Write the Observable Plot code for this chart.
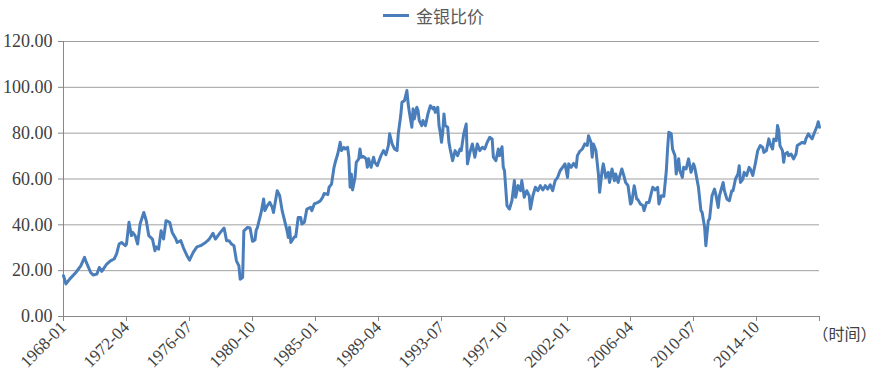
<!DOCTYPE html>
<html>
<head>
<meta charset="utf-8">
<script src="https://cdn.jsdelivr.net/npm/d3@7"></script>
<script src="https://cdn.jsdelivr.net/npm/@observablehq/plot@0.6"></script>
<style>
  html, body { margin: 0; padding: 0; background: #fff; }
  #wrap { width: 877px; position: relative; }
  #legend { height: 30px; display: flex; align-items: center; justify-content: flex-start; padding-left: 383px; box-sizing: border-box;
            font-family: "Noto Sans CJK SC", sans-serif; font-size: 17px; color: #595959; }
  #legend .sw { width: 26px; height: 3px; background: #4A7EBB; margin-right: 7px; }
  #chart svg, #chart svg g, #chart svg text { font-family: "Liberation Serif", "DejaVu Serif", "Times New Roman", serif !important; }
  #chart svg g.cjk, #chart svg g.cjk text { font-family: "Noto Sans CJK SC", sans-serif !important; }
</style>
</head>
<body>
<div id="wrap">
  <div id="legend"><span class="sw"></span><span>金银比价</span></div>
  <div id="chart"></div>
</div>
<script>
const seriesName = "金银比价";
const axisTitle = "（时间）";
const tickLabels = ["1968-01","1972-04","1976-07","1980-10","1985-01","1989-04","1993-07","1997-10","2002-01","2006-04","2010-07","2014-10"];
const axisEnd = "2019-01";
const yTicks = [0, 20, 40, 60, 80, 100, 120];

const dates = ["1968-01","1968-03","1968-06","1968-11","1969-03","1969-06","1969-07","1969-11","1970-01","1970-04","1970-06","1970-08","1970-12",
"1971-03","1971-06","1971-08","1971-10","1971-12","1972-03","1972-04","1972-06","1972-08","1972-09","1972-11","1973-01","1973-03","1973-06","1973-08","1973-10",
"1974-01","1974-03","1974-04","1974-06","1974-08","1974-10","1974-12","1975-03","1975-05","1975-08","1975-09","1975-12","1976-02","1976-05","1976-07","1976-10",
"1977-01","1977-04","1977-08","1977-11","1978-02","1978-04","1978-08","1978-11","1979-01","1979-03","1979-05","1979-07","1979-09","1979-11","1979-12",
"1980-02","1980-03","1980-06","1980-08","1980-10","1980-12","1981-01","1981-02","1981-05","1981-07","1981-08","1981-10","1981-12","1982-02","1982-03","1982-06",
"1982-08","1982-10","1982-11","1983-02","1983-03","1983-04","1983-05","1983-08","1983-09","1983-11","1984-01","1984-02","1984-04","1984-06","1984-09","1984-10",
"1984-12","1985-03","1985-05","1985-07","1985-08","1985-11","1985-12","1986-02","1986-04","1986-05","1986-07","1986-09","1986-10","1986-12","1987-01","1987-03",
"1987-04","1987-05","1987-06","1987-07","1987-09","1987-10","1987-12","1988-01","1988-02","1988-04","1988-06","1988-07","1988-08","1988-10","1988-12","1989-01",
"1989-03","1989-04","1989-06","1989-08","1989-10","1989-12","1990-01","1990-03","1990-05","1990-07","1990-08","1990-10","1990-11","1991-01","1991-03","1991-04",
"1991-05","1991-07","1991-08","1991-09","1991-11","1991-12","1992-01","1992-03","1992-04","1992-06","1992-08","1992-10","1992-12","1993-01","1993-02","1993-04",
"1993-05","1993-06","1993-07","1993-08","1993-09","1993-10","1993-12","1994-01","1994-02","1994-04","1994-06","1994-08","1994-10","1994-11","1995-01","1995-03",
"1995-04","1995-06","1995-08","1995-10","1995-12","1996-02","1996-04","1996-06","1996-08","1996-10","1996-12","1997-01","1997-03","1997-05","1997-06","1997-08",
"1997-09","1997-10","1997-12","1998-02","1998-04","1998-06","1998-07","1998-09","1998-11","1998-12","1999-02","1999-04","1999-06","1999-07","1999-09","1999-11",
"2000-01","2000-03","2000-05","2000-07","2000-09","2000-11","2001-01","2001-03","2001-05","2001-07","2001-09","2001-11","2002-01","2002-02","2002-04","2002-06",
"2002-08","2002-09","2002-11","2003-01","2003-03","2003-05","2003-06","2003-08","2003-09","2003-10","2003-12","2004-02","2004-03","2004-05","2004-06","2004-08",
"2004-10","2004-11","2005-01","2005-03","2005-04","2005-06","2005-07","2005-09","2005-11","2005-12","2006-02","2006-04","2006-05","2006-07","2006-09","2006-10",
"2006-12","2007-02","2007-03","2007-05","2007-07","2007-08","2007-10","2007-12","2008-02","2008-03","2008-05","2008-07","2008-09","2008-10","2008-11","2009-01",
"2009-02","2009-04","2009-05","2009-07","2009-08","2009-10","2009-11","2010-01","2010-03","2010-05","2010-07","2010-08","2010-10","2010-11","2011-01","2011-02",
"2011-04","2011-05","2011-07","2011-08","2011-10","2011-12","2012-01","2012-03","2012-04","2012-07","2012-08","2012-10","2012-12","2013-02","2013-03","2013-05",
"2013-07","2013-08","2013-09","2013-11","2013-12","2014-02","2014-04","2014-05","2014-07","2014-09","2014-11","2015-01","2015-03","2015-04","2015-06","2015-08",
"2015-09","2015-11","2015-12","2016-02","2016-03","2016-04","2016-05","2016-07","2016-08","2016-09","2016-11","2016-12","2017-02","2017-04","2017-06","2017-07",
"2017-09","2017-11","2018-01","2018-02","2018-04","2018-06","2018-07","2018-09","2018-11","2018-12","2019-01"];

const ratios = [17.8,14.2,16.3,19.2,22.1,25.8,24.3,19.2,18.1,18.5,21.4,19.7,22.9,
24.3,25.1,27.3,31.6,32.3,30.9,31.6,41.1,35.3,36.7,35.3,31.6,40.4,45.4,41.8,35.3,
33.8,28.7,30.4,29.4,37.4,33.8,41.8,41.1,36.7,33.8,32.3,33.1,30.1,26.5,24.6,28.0,
30.4,30.9,32.3,33.8,36.3,33.8,36.7,38.6,33.1,33.1,31.6,30.9,24.3,22.1,16.3,
17.0,37.4,38.9,38.6,32.8,33.4,37.7,38.9,45.4,51.3,46.2,48.4,49.8,47.6,45.4,54.9,
52.7,46.2,44.0,37.4,34.5,38.9,32.3,34.8,34.8,43.2,43.2,40.4,41.1,46.9,47.6,46.2,
49.1,49.8,50.5,52.3,53.7,53.2,56.4,57.8,65.1,67.3,70.9,76.0,72.4,73.8,73.1,73.8,
69.5,56.4,62.2,55.2,60.7,67.3,68.8,73.1,69.5,69.8,68.8,65.1,68.8,65.1,69.5,67.3,
65.8,67.3,70.2,72.4,70.6,74.6,79.7,75.3,73.1,72.4,79.7,87.7,93.5,94.2,98.6,92.8,
89.1,82.6,90.6,86.2,91.3,89.9,85.5,83.3,85.5,83.3,88.4,92.0,90.6,91.3,89.1,91.3,
83.3,80.4,76.0,80.4,88.4,83.3,82.6,76.0,73.1,68.0,72.4,70.2,73.1,72.4,79.7,84.0,
66.6,71.6,75.3,69.5,75.3,72.4,73.8,73.1,76.0,78.2,77.5,69.5,68.0,73.1,70.2,74.1,
65.1,63.6,48.4,46.9,50.5,59.3,52.0,57.1,54.9,59.3,52.0,54.9,52.7,46.9,52.7,56.4,
54.9,57.1,55.2,57.1,55.6,57.5,54.9,59.3,60.7,63.6,65.1,66.6,60.7,66.6,65.1,66.8,
65.1,70.2,72.1,73.1,75.3,74.6,78.9,76.0,69.5,75.3,72.4,62.2,54.2,63.6,66.6,60.7,
62.9,58.5,64.4,59.3,62.2,58.5,60.7,64.4,60.7,58.5,57.1,49.1,49.8,57.1,51.3,51.0,
49.1,48.4,46.2,49.8,49.8,52.0,56.4,55.2,56.4,49.1,52.7,52.4,63.6,73.1,80.4,79.7,
73.1,70.2,62.2,68.8,63.6,60.7,65.1,64.4,68.8,62.9,66.6,65.1,59.3,56.4,46.2,45.4,
38.9,30.9,41.8,42.6,52.7,55.6,53.5,47.6,52.7,58.5,54.9,51.3,50.5,54.9,54.9,60.0,
62.2,65.8,58.5,60.0,62.9,61.5,65.1,64.4,61.5,66.6,72.4,74.6,73.8,71.6,72.4,77.5,
75.3,73.1,77.5,76.7,83.3,81.1,74.6,72.4,67.3,70.9,71.6,70.2,70.9,68.8,70.9,74.6,
75.3,76.0,75.6,77.5,79.7,78.2,77.5,80.4,83.0,85.0,82.6];

const idx = s => { const [y, m] = s.split("-").map(Number); return (y - 1968) * 12 + (m - 1); };
const data = dates.map((d, i) => ({ i: idx(d), v: ratios[i] }));
const tickPos = tickLabels.map(idx).concat([idx(axisEnd)]);
const labelAt = new Map(tickLabels.map(t => [idx(t), t]));

const chart = Plot.plot({
  width: 877,
  height: 351,
  marginTop: 11,
  marginLeft: 63,
  marginRight: 58,
  marginBottom: 65,
  style: { fontSize: "17px", color: "#404040", background: "#fff" },
  x: { domain: [0, idx(axisEnd)], axis: null },
  y: { domain: [0, 120], axis: null },
  marks: [
    Plot.ruleY(yTicks.filter(d => d > 0), { stroke: "#a0a0a0", strokeWidth: 1 }),
    Plot.axisY({ ticks: yTicks, tickFormat: d3.format(".2f"), label: null, tickSize: 5, tickPadding: 6, stroke: "#888", fontSize: 18, fill: "#404040" }),
    Plot.ruleX([0], { stroke: "#888" }),
    Plot.ruleY([0], { stroke: "#888" }),
    Plot.axisX({ ticks: tickPos, tickFormat: d => labelAt.get(d) ?? "", label: null, tickRotate: -45, tickSize: 5, tickPadding: 3, stroke: "#888", fontSize: 17, fill: "#404040" }),
    Plot.line(data, { x: "i", y: "v", stroke: "#4A7EBB", strokeWidth: 3, strokeLinejoin: "round", curve: "linear" }),
    Plot.text([axisTitle], { x: idx(axisEnd), y: 0, text: d => d, textAnchor: "start", dx: -7, dy: 18, fontSize: 16, fill: "#404040", className: "cjk" })
  ]
});
document.getElementById("chart").appendChild(chart);
</script>
</body>
</html>
